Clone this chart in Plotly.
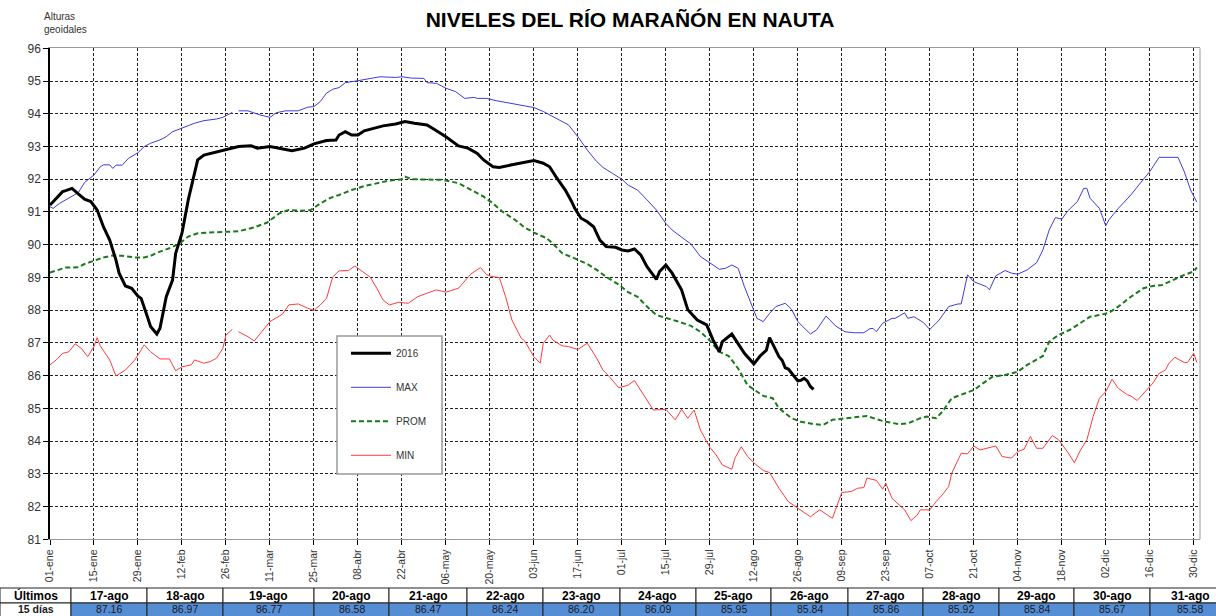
import pandas as pd
import plotly.graph_objects as go

# ---------------- data (day-of-year index, 0 = 01-ene-2016) ----------------
dias_2016 = [0, 4, 5, 7, 9, 11, 13, 15, 17, 19, 21, 22, 24, 26, 28, 29, 31, 32, 34, 35, 37, 39, 40, 42,
             44, 46, 47, 49, 52, 56, 60, 64, 66, 70, 73, 77, 81, 84, 88, 91, 92, 94, 96, 98, 100, 103,
             106, 110, 113, 116, 120, 123, 126, 130, 133, 136, 138, 141, 143, 147, 150, 154, 157, 159,
             161, 164, 166, 167, 169, 171, 173, 175, 177, 180, 182, 184, 186, 188, 190, 193, 194, 196,
             198, 201, 203, 206, 209, 211, 213, 214, 217, 221, 224, 226, 228]
niv_2016 = [91.21, 91.62, 91.65, 91.72, 91.55, 91.39, 91.32, 91.06, 90.55, 90.14, 89.53, 89.13, 88.74,
            88.67, 88.43, 88.36, 87.80, 87.50, 87.27, 87.45, 88.41, 88.92, 89.74, 90.35, 91.37, 92.18,
            92.59, 92.74, 92.81, 92.91, 93.00, 93.02, 92.95, 93.00, 92.95, 92.87, 92.95, 93.08, 93.18,
            93.20, 93.35, 93.45, 93.35, 93.35, 93.48, 93.56, 93.63, 93.69, 93.76, 93.71, 93.66, 93.48,
            93.30, 93.02, 92.95, 92.79, 92.59, 92.38, 92.36, 92.44, 92.49, 92.57, 92.49, 92.38, 92.08,
            91.67, 91.32, 91.11, 90.81, 90.70, 90.55, 90.14, 89.94, 89.92, 89.84, 89.81, 89.87, 89.69,
            89.33, 88.94, 89.18, 89.38, 89.13, 88.62, 88.01, 87.70, 87.55, 87.09, 86.73, 87.04, 87.27,
            86.68, 86.36, 86.60, 86.78]

# last 15 days (table)
ultimos_fechas = ["17-ago", "18-ago", "19-ago", "20-ago", "21-ago", "22-ago", "23-ago", "24-ago",
                  "25-ago", "26-ago", "27-ago", "28-ago", "29-ago", "30-ago", "31-ago"]
ultimos_dias = [229, 230, 231, 232, 233, 234, 235, 236, 237, 238, 239, 240, 241, 242, 243]
ultimos_valores = [87.16, 86.97, 86.77, 86.58, 86.47, 86.24, 86.20, 86.09, 85.95, 85.84, 85.86,
                   85.92, 85.84, 85.67, 85.58]

dias_max = [0, 1, 3, 6, 9, 11, 14, 16, 17, 19, 20, 21, 23, 25, 28, 30, 32, 35, 37, 39, 42, 46, 49, 53,
            55, 58, 59, 60, 63, 67, 70, 72, 75, 79, 82, 84, 86, 88, 90, 92, 94, 98, 102, 105, 110, 112,
            115, 119, 120, 123, 126, 129, 132, 135, 136, 139, 142, 147, 151, 154, 157, 161, 165, 168,
            171, 174, 176, 179, 182, 184, 187, 190, 193, 196, 198, 201, 204, 207, 210, 213, 215, 217,
            219, 221, 224, 225, 227, 229, 231, 234, 236, 238, 242, 244, 247, 250, 253, 256, 259, 261,
            262, 263, 265, 268, 269, 272, 273, 275, 278, 280, 283, 286, 289, 290, 292, 294, 298, 299,
            301, 304, 306, 308, 311, 314, 316, 318, 320, 322, 324, 327, 329, 330, 331, 334, 336, 337,
            340, 344, 348, 350, 353, 359, 361, 363, 365]
niv_max = [91.16, 91.11, 91.26, 91.42, 91.59, 91.90, 92.13, 92.38, 92.44, 92.44, 92.33, 92.43, 92.43,
           92.64, 92.81, 93.00, 93.10, 93.20, 93.30, 93.45, 93.56, 93.71, 93.79, 93.84, 93.89, 94.04,
           None, 94.09, 94.09, 93.96, 93.89, 94.03, 94.09, 94.09, 94.20, 94.22, 94.37, 94.63, 94.75,
           94.80, 94.95, 95.01, 95.08, 95.13, 95.11, 95.13, 95.09, 95.08, 94.95, 94.93, 94.78, 94.68,
           94.47, 94.50, 94.47, 94.47, 94.40, 94.32, 94.24, 94.19, 94.07, 93.86, 93.66, 93.30, 92.89,
           92.54, 92.36, 92.18, 92.00, 91.82, 91.67, 91.37, 91.06, 90.65, 90.45, 90.23, 90.02, 89.64,
           89.45, 89.25, 89.28, 89.38, 89.28, 88.72, 87.99, 87.75, 87.65, 87.90, 88.11, 88.21, 88.03,
           87.65, 87.27, 87.40, 87.82, 87.52, 87.34, 87.31, 87.31, 87.44, 87.44, 87.34, 87.60, 87.75,
           87.75, 87.92, 87.75, 87.80, 87.62, 87.41, 87.70, 88.11, 88.19, 88.19, 89.08, 88.87, 88.72,
           88.62, 89.05, 89.21, 89.13, 89.10, 89.23, 89.45, 89.84, 90.45, 90.83, 90.78, 91.04, 91.32,
           91.72, 91.72, 91.42, 91.11, 90.58, 90.76, 91.11, 91.52, 92.00, 92.23, 92.67, 92.67, 92.23,
           91.67, 91.30]

dias_prom = [0, 3, 5, 9, 11, 14, 17, 20, 23, 27, 30, 32, 35, 38, 41, 44, 47, 50, 55, 60, 65, 69, 73, 76,
             80, 83, 86, 89, 92, 96, 100, 104, 108, 112, 113, 115, 120, 125, 130, 134, 138, 141, 144,
             148, 151, 154, 158, 160, 163, 167, 171, 174, 177, 181, 184, 187, 190, 193, 196, 200, 204,
             207, 210, 213, 216, 219, 222, 225, 227, 230, 232, 236, 239, 243, 246, 249, 253, 257, 260,
             263, 266, 270, 273, 277, 279, 282, 284, 287, 291, 294, 297, 300, 304, 308, 311, 316, 318,
             321, 325, 328, 331, 334, 337, 340, 344, 348, 351, 354, 357, 361, 364, 365]
niv_prom = [89.15, 89.25, 89.30, 89.31, 89.41, 89.51, 89.61, 89.67, 89.66, 89.61, 89.61, 89.66, 89.79,
            89.89, 90.02, 90.25, 90.35, 90.37, 90.38, 90.41, 90.53, 90.67, 90.96, 91.06, 91.04, 91.06,
            91.26, 91.42, 91.52, 91.67, 91.79, 91.88, 91.96, 92.00, 92.08, 92.00, 92.00, 91.98, 91.88,
            91.67, 91.47, 91.26, 91.01, 90.76, 90.53, 90.37, 90.20, 90.04, 89.74, 89.58, 89.41, 89.23,
            89.02, 88.78, 88.55, 88.41, 88.11, 87.85, 87.77, 87.65, 87.52, 87.34, 87.07, 86.73, 86.60,
            86.22, 85.71, 85.51, 85.38, 85.31, 85.00, 84.70, 84.59, 84.52, 84.49, 84.65, 84.69, 84.72,
            84.77, 84.67, 84.59, 84.52, 84.54, 84.70, 84.75, 84.70, 84.90, 85.31, 85.46, 85.56, 85.77,
            85.97, 86.02, 86.12, 86.33, 86.60, 87.04, 87.24, 87.42, 87.62, 87.80, 87.85, 87.92, 88.11,
            88.41, 88.67, 88.74, 88.77, 88.90, 89.08, 89.18, 89.31]

dias_min = [0, 2, 4, 6, 8, 10, 12, 14, 15, 16, 19, 21, 24, 27, 30, 32, 35, 38, 40, 42, 45, 46, 49, 51,
            53, 55, 56, 58, 59, 60, 63, 65, 67, 70, 73, 74, 76, 79, 82, 84, 86, 88, 90, 92, 95, 97, 99,
            102, 104, 106, 108, 111, 114, 117, 120, 123, 126, 130, 133, 134, 137, 139, 141, 143, 145,
            147, 150, 151, 154, 156, 157, 159, 160, 163, 165, 168, 171, 174, 176, 178, 181, 184, 186,
            188, 190, 192, 196, 199, 201, 203, 205, 207, 210, 212, 214, 217, 218, 220, 222, 224, 227,
            229, 232, 235, 238, 242, 245, 249, 250, 252, 255, 257, 259, 260, 263, 265, 266, 268, 272,
            274, 276, 277, 280, 282, 284, 286, 287, 290, 292, 294, 296, 301, 303, 306, 308, 310, 312,
            314, 316, 319, 321, 324, 326, 328, 330, 332, 334, 336, 338, 340, 343, 344, 346, 348, 350,
            351, 353, 355, 356, 358, 361, 362, 364, 365]
niv_min = [86.33, 86.48, 86.68, 86.73, 86.97, 86.83, 86.58, 86.89, 87.16, 86.91, 86.48, 85.99, 86.17,
           86.48, 86.94, 86.73, 86.51, 86.51, 86.15, 86.27, 86.33, 86.48, 86.38, 86.43, 86.53, 86.83,
           87.24, 87.41, None, 87.34, 87.19, 87.06, 87.29, 87.65, 87.82, 87.88, 88.16, 88.19, 88.06,
           87.99, 88.16, 88.36, 89.02, 89.20, 89.21, 89.35, 89.21, 89.00, 88.67, 88.31, 88.16, 88.24,
           88.21, 88.41, 88.52, 88.62, 88.55, 88.67, 89.00, 89.11, 89.30, 89.08, 89.02, 89.00, 88.41,
           87.70, 87.14, 87.07, 86.58, 86.38, 86.99, 87.24, 87.09, 86.91, 86.89, 86.80, 86.99, 86.53,
           86.17, 85.97, 85.63, 85.71, 85.85, 85.56, 85.26, 84.95, 84.97, 84.65, 84.97, 84.70, 84.95,
           84.34, 83.81, 83.58, 83.27, 83.14, 83.48, 83.83, 83.53, 83.34, 83.10, 83.04, 82.56, 82.15,
           81.95, 81.69, 81.90, 81.64, 81.90, 82.43, 82.46, 82.56, 82.58, 82.87, 82.80, 82.53, 82.71,
           82.25, 81.90, 81.57, 81.74, 81.90, 81.90, 82.15, 82.36, 82.61, 83.02, 83.63, 83.61, 83.85,
           83.73, 83.85, 83.53, 83.48, 83.68, 83.75, 84.14, 83.78, 83.78, 84.17, 84.04, 83.65, 83.34,
           83.73, 84.04, 84.75, 85.31, 85.51, 85.89, 85.61, 85.41, 85.38, 85.24, 85.46, 85.69, 85.77,
           86.07, 86.17, 86.36, 86.56, 86.40, 86.40, 86.68, 86.40]

tick_labels = ["01-ene", "15-ene", "29-ene", "12-feb", "26-feb", "11-mar", "25-mar", "08-abr",
               "22-abr", "06-may", "20-may", "03-jun", "17-jun", "01-jul", "15-jul", "29-jul",
               "12-ago", "26-ago", "09-sep", "23-sep", "07-oct", "21-oct", "04-nov", "18-nov",
               "02-dic", "16-dic", "30-dic"]

tabla_titulo = ["Últimos", "15 días"]

# ---------------- helpers ----------------
inicio = pd.Timestamp("2016-01-01")


def fechas(dias):
    return [inicio + pd.Timedelta(days=d) for d in dias]


tick_vals = list(pd.date_range("2016-01-01", periods=len(tick_labels), freq="14D"))

FONT = "Liberation Sans, Arial, sans-serif"
W, H = 1216, 616
fig = go.Figure()

serie_2016_x = fechas(dias_2016 + ultimos_dias)
serie_2016_y = niv_2016 + ultimos_valores

fig.add_trace(go.Scatter(x=fechas(dias_min), y=niv_min, name="MIN", mode="lines",
                         line=dict(color="#ff3c3c", width=1), legendgroup="d", legendrank=4))
fig.add_trace(go.Scatter(x=fechas(dias_prom), y=niv_prom, name="PROM", mode="lines",
                         line=dict(color="#1a7a1a", width=2, dash="5px,3px"), legendgroup="c",
                         legendrank=3))
fig.add_trace(go.Scatter(x=fechas(dias_max), y=niv_max, name="MAX", mode="lines",
                         line=dict(color="#3c3cdc", width=1), legendgroup="b", legendrank=2))
fig.add_trace(go.Scatter(x=serie_2016_x, y=serie_2016_y, name="2016", mode="lines",
                         line=dict(color="black", width=3), legendgroup="a", legendrank=1))

# ---------------- table of last 15 days (drawn as cells in paper space) ----------------
col_widths = [71, 76, 76, 91, 75, 78, 76, 77, 76, 75, 77, 75, 76, 75, 76, 80]
row_top, row_mid, row_bot = 588, 603, 622
shapes = []
annotations = []
bordes = [0]
for w in col_widths:
    bordes.append(bordes[-1] + w)
encabezados = [tabla_titulo[0]] + ultimos_fechas
valores = [tabla_titulo[1]] + ["%.2f" % v for v in ultimos_valores]
for i in range(len(encabezados)):
    xa, xb = bordes[i] / W, bordes[i + 1] / W
    shapes.append(dict(type="rect", xref="paper", yref="paper", x0=xa, x1=xb,
                       y0=1 - row_mid / H, y1=1 - row_top / H, fillcolor="white",
                       line=dict(color="#222", width=1), layer="above"))
    shapes.append(dict(type="rect", xref="paper", yref="paper", x0=xa, x1=xb,
                       y0=1 - row_bot / H, y1=1 - row_mid / H,
                       fillcolor="white" if i == 0 else "#558ed5",
                       line=dict(color="#222", width=1), layer="above"))
    annotations.append(dict(text="<b>%s</b>" % encabezados[i], xref="paper", yref="paper",
                            x=(xa + xb) / 2, y=1 - (row_top + row_mid) / 2 / H,
                            xanchor="center", yanchor="middle", showarrow=False,
                            font=dict(family=FONT, size=12, color="black")))
    annotations.append(dict(text=("<b>%s</b>" % valores[i]) if i == 0 else valores[i],
                            xref="paper", yref="paper",
                            x=(xa + xb) / 2, y=0,
                            xanchor="center", yanchor="bottom", showarrow=False,
                            borderpad=0,
                            font=dict(family=FONT, size=10.5, color="#1a1a1a")))

annotations.append(dict(text="Alturas<br>geoidales", xref="paper", yref="paper",
                        x=42 / W, y=1 - 9 / H, xanchor="left", yanchor="top", align="left",
                        showarrow=False, font=dict(family=FONT, size=10, color="#333")))

shapes.append(dict(type="line", xref="x domain", yref="y domain", x0=1, x1=1, y0=0, y1=1,
                   line=dict(color="#999", width=1)))
shapes.append(dict(type="rect", xref="paper", yref="paper", x0=337 / W, x1=442 / W,
                   y0=1 - 474 / H, y1=1 - 336 / H, fillcolor="white",
                   line=dict(color="#999", width=1.5), layer="above"))

x0p, x1p = 50 / W, 1200 / W
y0p, y1p = 1 - 539.3 / H, 1 - 48.3 / H

fig.update_layout(
    width=W, height=H, autosize=False,
    margin=dict(l=0, r=0, t=0, b=0),
    paper_bgcolor="white", plot_bgcolor="white",
    font=dict(family=FONT, color="#333"),
    title=dict(text="<b>NIVELES DEL RÍO MARAÑÓN EN NAUTA</b>", x=630 / W, xanchor="center",
               y=1 - 20 / H, yanchor="middle", font=dict(family=FONT, size=21, color="black")),
    xaxis=dict(domain=[x0p, x1p], type="date", range=["2016-01-01", "2017-01-01"],
               tickvals=tick_vals, ticktext=tick_labels, tickangle=-90,
               tickfont=dict(family=FONT, size=10.5, color="#333"),
               ticks="outside", ticklen=5, tickcolor="black",
               showgrid=True, gridcolor="#222", griddash="3px,2px", gridwidth=1,
               showline=True, linecolor="#999", linewidth=1, mirror=True,
               zeroline=False, automargin=False, fixedrange=True),
    yaxis=dict(domain=[y0p, y1p], range=[81, 96], dtick=1, tick0=81,
               tickfont=dict(family=FONT, size=12, color="#333"),
               ticks="outside", ticklen=5, tickcolor="black",
               showgrid=True, gridcolor="#222", griddash="3px,2px", gridwidth=1,
               showline=True, linecolor="black", linewidth=1.5,
               zeroline=False, automargin=False, fixedrange=True),
    showlegend=True,
    legend=dict(x=346 / W, y=1 - 338.8 / H, xanchor="left", yanchor="top",
                bgcolor="rgba(0,0,0,0)", borderwidth=0, itemwidth=40,
                tracegroupgap=15, traceorder="grouped",
                font=dict(family=FONT, size=10, color="#333")),
    annotations=annotations,
    shapes=shapes,
)

fig.write_html("out.html", config={"displayModeBar": False},
               post_script="document.body.style.margin='0';")
